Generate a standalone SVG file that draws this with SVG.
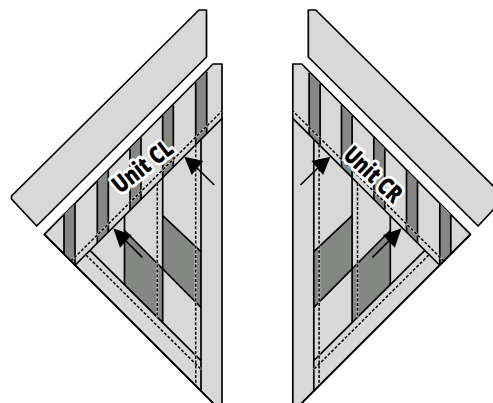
<svg xmlns="http://www.w3.org/2000/svg" width="493" height="403" viewBox="0 0 493 403">
<style>
.l{fill:#d8d8d8;stroke:#000;stroke-width:1.7;stroke-linejoin:round}
.d{fill:#858785;stroke:none}
.s{fill:none;stroke:#000;stroke-width:1.7}
.u{fill:none;stroke:#d8d8d8;stroke-width:2.4;opacity:.7}
.a{fill:none;stroke:#000;stroke-width:1.5;stroke-dasharray:3 1.8}
.h{fill:#000;stroke:none}
.t{font-family:"Open Sans",sans-serif;font-weight:800;font-size:24px;text-anchor:middle;fill:#000;stroke:#fff;stroke-width:6px;stroke-linejoin:round;paint-order:stroke}
</style>
<g id="unit-cl">
<path class="l" d="M199 10H206.500V57L36.700 226L11.500 199V196Z"/>
<path class="l" d="M44.300 234.300L213 64H222V410H220Z"/>
<path class="d" d="M64 214.500L75 203.500V265.300L64 254ZM97.300 181.200L108.300 170.200V232L97.300 243ZM130 148.500L141 137.500V199.300L130 210.300ZM162.700 115.800L173.300 105.200V167L162.700 177.600ZM195.700 82.800L206.700 71.800V133.600L195.700 144.600Z"/>
<path class="d" d="M162.700 215.700L201 251.700V307.300L162.700 269.300ZM124.500 230.500L162.700 269.300V322.700L124.500 284.500Z"/>
<path class="s" d="M64 214.500V254M75 203.500V265.300M97.300 181.200V243M108.300 170.200V232M130 148.500V210.300M141 137.500V199.300M162.700 115.800V177.600M173.300 105.200V167M195.700 82.800V144.600M206.700 71.800V133.600"/>
<path class="s" d="M124.500 215.800V284.500M162.700 177.600V322.700M201 139.300V391.500"/>
<path class="s" d="M162.700 215.700L201 251.700M124.500 230.500L201 307.300"/>
<path class="s" d="M75.300 265L222 118.300M90 250.300L201 360.700"/>
<path class="u" d="M71 261L222 111M86 255L201 369.300M157.300 183V317.500M195.700 144.600V386"/>
<path class="a" d="M71 261L222 111M86 255L201 369.300M157.300 183V317.500M195.700 144.600V386"/>
<path class="l" style="fill:none" d="M44.300 234.300L213 403"/>
<path class="h" d="M113.300 228.300L131.700 235L120 247.700Z"/>
<path class="s" d="M124 239L142.300 257.300"/>
<path class="h" d="M184.300 156.700L203.300 161L191.700 175Z"/>
<path class="s" d="M197 168L214.300 185"/>
<text class="t" transform="translate(147.500 173) rotate(-38)" textLength="70" lengthAdjust="spacingAndGlyphs">Unit CL</text>
</g>
<g id="unit-cr">
<g transform="matrix(-1 0 0 1 514.800 0)">
<path class="l" d="M199 10H206.500V57L36.700 226L11.500 199V196Z"/>
<path class="l" d="M44.300 234.300L213 64H222V410H220Z"/>
<path class="d" d="M64 214.500L75 203.500V265.300L64 254ZM97.300 181.200L108.300 170.200V232L97.300 243ZM130 148.500L141 137.500V199.300L130 210.300ZM162.700 115.800L173.300 105.200V167L162.700 177.600ZM194.700 83.800L205.700 72.800V134.600L194.700 145.600Z"/>
<path class="d" d="M162.700 215.700L201 251.700V307.300L162.700 269.300ZM124.500 230.500L162.700 269.300V322.700L124.500 284.500Z"/>
<path class="s" d="M64 214.500V254M75 203.500V265.300M97.300 181.200V243M108.300 170.200V232M130 148.500V210.300M141 137.500V199.300M162.700 115.800V177.600M173.300 105.200V167M194.700 83.800V145.600M205.700 72.800V134.600"/>
<path class="s" d="M124.500 215.800V284.500M162.700 177.600V322.700M201 139.300V391.500"/>
<path class="s" d="M162.700 215.700L201 251.700M124.500 230.500L201 307.300"/>
<path class="s" d="M75.300 265L222 118.300M90 250.300L201 360.700"/>
<path class="u" d="M71 261L222 111M86 255L201 369.300M157.300 183V317.500M195.700 144.600V386"/>
<path class="a" d="M71 261L222 111M86 255L201 369.300M157.300 183V317.500M195.700 144.600V386"/>
<path class="l" style="fill:none" d="M44.300 234.300L213 403"/>
<path class="h" d="M113.300 228.300L131.700 235L120 247.700Z"/>
<path class="s" d="M124 239L142.300 257.300"/>
<path class="h" d="M184.300 156.700L203.300 161L191.700 175Z"/>
<path class="s" d="M197 168L214.300 185"/>
</g>
<text class="t" transform="translate(367.500 180.500) rotate(43)" textLength="70" lengthAdjust="spacingAndGlyphs">Unit CR</text>
</g>
</svg>
